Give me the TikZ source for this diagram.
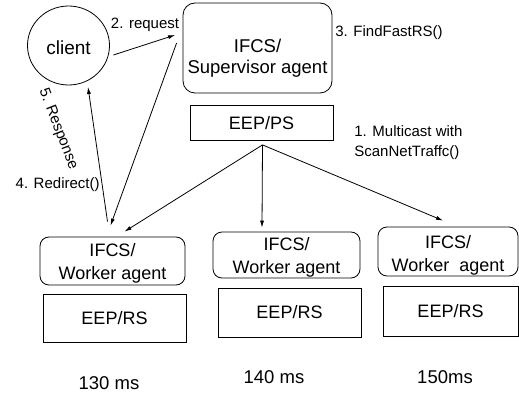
\documentclass[tikz,border=0pt]{standalone}
\usepackage{fontspec}
\setmainfont{Liberation Sans}
\usetikzlibrary{arrows.meta,calc,shapes.geometric}
\begin{document}
\begin{tikzpicture}[x=1pt,y=-1pt,line width=0.8pt,
  boxfont/.style={font=\fontsize{18}{23}\selectfont},
  agent/.style={draw,rounded corners=9pt,inner sep=0pt},
  agenttext/.style={boxfont,align=center,inner sep=0pt},
  store/.style={draw,boxfont,inner sep=0pt},
  lbl/.style={font=\fontsize{15}{20}\selectfont,inner sep=0pt,align=left},
  timing/.style={font=\fontsize{18.5}{22}\selectfont,inner sep=0pt},
  arr/.style={-{Latex[length=7pt,width=4pt]}}]
\useasboundingbox (0,0) rectangle (519,393);

% client and supervisor side
\node[draw,ellipse,minimum width=82pt,minimum height=79pt,inner sep=0pt] (client) at (68.5,45.5) {};
\node[font=\fontsize{19}{23}\selectfont,inner sep=0pt] (clientt) at ($(client.center)+(0,2)$) {client};
\node[agent,rounded corners=12pt,minimum width=149pt,minimum height=90pt] (sup) at (257.5,48) {};
\node[agenttext,font=\fontsize{18.5}{21.5}\selectfont] (supt) at ($(sup.center)+(0,10)$) {IFCS/\\Supervisor agent};
\node[store,minimum width=143pt,minimum height=35pt] (eepps) at (261.5,123) {EEP/PS};

% worker side
\node[agent,minimum width=145pt,minimum height=48pt] (w1) at (112.5,261) {};
\node[agenttext] (w1t) at ($(w1.center)+(0,2)$) {IFCS/\\Worker agent};
\node[store,minimum width=143pt,minimum height=48pt] (r1) at (114.5,318) {EEP/RS};
\node[agent,minimum width=147pt,minimum height=46pt] (w2) at (286.5,255) {};
\node[agenttext] (w2t) at ($(w2.center)+(0,2)$) {IFCS/\\Worker agent};
\node[store,minimum width=143pt,minimum height=49pt] (r2) at (289.5,312.5) {EEP/RS};
\node[agent,minimum width=140pt,minimum height=49pt] (w3) at (448,251.5) {};
\node[agenttext] (w3t) at ($(w3.center)+(0,4)$) {IFCS/\\Worker\ \ agent};
\node[store,minimum width=135pt,minimum height=50pt] (r3) at (450.5,311) {EEP/RS};

% response times
\node[timing] (t1) at (109,383) {130 ms};
\node[timing] (t2) at (274,377) {140 ms};
\node[timing] (t3) at (445,377) {150ms};

% messages
\draw[arr] ($(client.east)+(3.5,9.5)$) -- ($(sup.west)+(-7.5,-13)$);
\node[lbl] (l2) at (145,25) {2. request};
\draw[arr] ($(sup.west)+(-6,-5)$) -- ($(w1.north)+(-2,-11)$);
\draw[arr] ($(w1.north)+(-5,-15)$) -- ($(client.south)+(19.5,1.5)$);
\node[lbl,rotate=-69] (l5) at (58,129) {5. Response};
\node[lbl,anchor=east] (l4) at (100,185) {4. Redirect()};
\node[lbl,anchor=west] (l3) at (335,33) {3. FindFastRS()};
\node[lbl,anchor=west] (l1) at (354,143) {1. Multicast with\\ScanNetTraffc()};

\coordinate (fan) at ($(eepps.south)+(1,4)$);
\draw[arr] (fan) -- ($(w1.north)+(12,-5)$);
\draw[arr] (fan) -- ($(w2.north)+(-24.5,-4)$);
\draw[arr] (fan) -- ($(w3.north)+(-5,-6)$);
\end{tikzpicture}
\end{document}
